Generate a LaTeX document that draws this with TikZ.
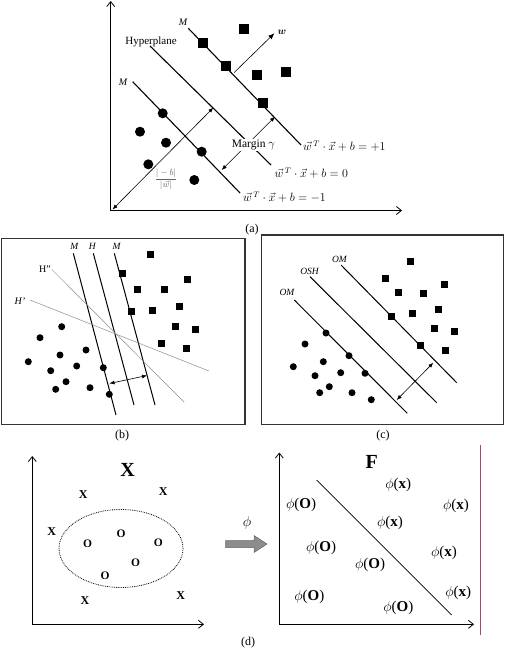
\documentclass[tikz,border=0pt]{standalone}
\usepackage{amsmath}
\usepackage{fontspec}
\setmainfont{Liberation Serif}
\usetikzlibrary{arrows.meta}
\tikzset{
  sq/.style={rectangle,fill=black,inner sep=0pt,minimum size=#1},
  dot/.style={circle,fill=black,inner sep=0pt,minimum size=#1},
  axis/.style={line width=0.8pt,-{Straight Barb[length=5pt,width=8pt]}},
  thinline/.style={line width=0.5pt,black!45},
  dbl/.style={line width=0.6pt,{Latex[length=5pt,width=4pt]}-{Latex[length=5pt,width=4pt]}},
  lab/.style={font=\fontsize{9.5}{10}\selectfont\itshape,inner sep=1pt},
  captxt/.style={font=\fontsize{12}{13}\selectfont,inner sep=1pt},
  eq/.style={font=\fontsize{12}{13}\selectfont,anchor=west,inner sep=0pt},
  panelbox/.style={line width=1.2pt,draw=black!80},
  bigl/.style={font=\fontsize{20}{22}\selectfont\bfseries,inner sep=0pt},
  xl/.style={font=\fontsize{12}{13}\selectfont\bfseries,inner sep=0pt},
  phil/.style={font=\fontsize{15}{16}\selectfont,inner sep=0pt},
}
\begin{document}
\begin{tikzpicture}[x=1pt,y=-1pt]
\useasboundingbox (0,0) rectangle (507,653);
% ================= (a) =================
\coordinate (ao) at (110.7,210.5);
\coordinate (ay) at (110.7,1);
\coordinate (ax) at (402,210.5);
\draw[axis] (ao) -- (ay);
\draw[axis] (ao) -- (ax);
% lines
\coordinate (p1a) at (188.3,28.3); \coordinate (p1b) at (301,145);
\coordinate (h0a) at (150,46); \coordinate (h0b) at (271,165);
\coordinate (m1a) at (132.7,81.7); \coordinate (m1b) at (240,193);
\draw[line width=1.1pt] (p1a) -- (p1b);
\draw[line width=1.1pt] (h0a) -- (h0b);
\draw[line width=1.1pt] (m1a) -- (m1b);
\node[lab,font=\fontsize{10}{11}\selectfont\itshape] (lM1) at (183,22) {M};
\node[lab,font=\fontsize{10}{11}\selectfont\itshape] (lM2) at (123,82) {M};
\node[captxt,font=\fontsize{11}{12}\selectfont] (lhyp) at (151,42) {Hyperplane};
% squares
\foreach \n/\x/\y in {1/244/29,2/203.3/42.7,3/226/66,4/256.7/75,5/286/71.7,6/263.3/103.3}
  \node[sq=10pt] (as\n) at (\x,\y) {};
% circles
\foreach \n/\x/\y in {1/162.7/113.3,2/140/131.7,3/166/142.7,4/201.7/151.7,5/148.3/164.3,6/194.3/180}
  \node[dot=10pt] (ac\n) at (\x,\y) {};
% w arrow
\coordinate (wa) at (234,72.7);
\coordinate (wb) at (274.3,33.3);
\draw[line width=0.6pt,-{Latex[length=6pt,width=5pt]}] (wa) -- (wb);
\node[inner sep=0pt,font=\fontsize{10}{11}\selectfont] (wl) at (282,32.5) {$\boldsymbol{w}$};
% margin arrow
\coordinate (ma) at (221.7,170);
\coordinate (mb) at (275,116.7);
\draw[dbl] (ma) -- (mb);
\node[captxt,font=\fontsize{11.5}{12}\selectfont,fill=white,inner sep=0.5pt] (mlab) at (253.5,145) {Margin $\gamma$};
% long arrow
\coordinate (la) at (112.5,209.5);
\coordinate (lb) at (213.3,107.7);
\draw[dbl] (la) -- (lb);
\node[inner sep=0pt,text=black!60,font=\fontsize{9}{10}\selectfont] (frac) at (166,179) {$\displaystyle\frac{|-b|}{|\vec{w}|}$};
% equations
\node[eq] (e1) at (303,146.5) {$\vec{w}^{\,T}\cdot\vec{x}+b=+1$};
\node[eq] (e0) at (274.5,173) {$\vec{w}^{\,T}\cdot\vec{x}+b=0$};
\node[eq] (em) at (243,197.5) {$\vec{w}^{\,T}\cdot\vec{x}+b=-1$};
\node[captxt] (capa) at (252,229.5) {(a)};
% ================= (b) =================
\draw[panelbox] (1.7,238.3) rectangle (245,424.5);
\coordinate (bm1a) at (73.3,253.3); \coordinate (bm1b) at (116,415);
\coordinate (bha) at (93.3,253.3); \coordinate (bhb) at (134,405);
\coordinate (bm2a) at (114.3,253.3); \coordinate (bm2b) at (155,405);
\coordinate (bh2a) at (51.7,269.3); \coordinate (bh2b) at (184.3,402.3);
\coordinate (bh1a) at (30,300); \coordinate (bh1b) at (209,371);
\draw[line width=1pt] (bm1a) -- (bm1b);
\draw[line width=1pt] (bha) -- (bhb);
\draw[line width=1pt] (bm2a) -- (bm2b);
\draw[thinline] (bh2a) -- (bh2b);
\draw[thinline] (bh1a) -- (bh1b);
\node[lab] (blm1) at (74.3,246.5) {M};
\node[lab] (blh) at (92.3,246.5) {H};
\node[lab] (blm2) at (116.7,246.5) {M};
\node[lab,font=\fontsize{10}{11}\selectfont] (blh2) at (45,269) {H''};
\node[lab,font=\fontsize{10}{11}\selectfont\itshape] (blh1) at (20,301.5) {H'};
\foreach \n/\x/\y in {1/150.7/254.3,2/122.3/273.3,3/187.7/279.3,4/137.7/289,5/164.3/289.3,6/131/311,7/152.3/310,8/179.3/306.7,9/175.7/326,10/195/329.3,11/161.7/343.3,12/186.7/348.3}
  \node[sq=7pt] (bs\n) at (\x,\y) {};
\foreach \n/\x/\y in {1/61.7/326.7,2/40/337.7,3/86/350,4/60/355,5/28.3/361.7,6/50.7/370.7,7/76.7/366,8/103.3/367.7,9/66/381.7,10/55.7/389.3,11/90/387.7,12/109.3/394.3}
  \node[dot=7pt] (bc\n) at (\x,\y) {};
\coordinate (bda) at (109.5,383.5);
\coordinate (bdb) at (147,375.5);
\draw[dbl] (bda) -- (bdb);
\node[captxt] (capb) at (122,436) {(b)};
% ================= (c) =================
\draw[panelbox] (261.7,235) rectangle (503.3,424.5);
\coordinate (coma) at (341,265); \coordinate (comb) at (456.7,382.7);
\coordinate (cosa) at (310,276.7); \coordinate (cosb) at (436.7,402.7);
\coordinate (cola) at (294.3,300); \coordinate (colb) at (407.3,413.3);
\draw[line width=1pt] (coma) -- (comb);
\draw[line width=1pt] (cosa) -- (cosb);
\draw[line width=1pt] (cola) -- (colb);
\node[lab] (clm1) at (339.5,259) {OM};
\node[lab] (clos) at (309.5,271.5) {OSH};
\node[lab] (clm2) at (287,292) {OM};
\foreach \n/\x/\y in {1/410.3/261,2/385/278.3,3/444/284.3,4/398.3/292.7,5/423.7/293.7,6/391.7/316,7/412/313.7,8/438.3/309.7,9/434.3/328.7,10/454/331,11/420.7/345.3,12/445/350.7}
  \node[sq=7pt] (cs\n) at (\x,\y) {};
\foreach \n/\x/\y in {1/326/333,2/305/344,3/349/355.7,4/323.3/361.7,5/293.3/366.7,6/315/375.7,7/340.7/372.7,8/365/373.3,9/329.3/386.7,10/319.7/392.7,11/352/392.7,12/371.3/399.7}
  \node[dot=7pt] (cc\n) at (\x,\y) {};
\coordinate (cda) at (396.7,400);
\coordinate (cdb) at (433.3,362.7);
\draw[dbl] (cda) -- (cdb);
\node[captxt] (capc) at (383,436) {(c)};
% ================= (d) left =================
\coordinate (dlo) at (32.3,624.3);
\coordinate (dly) at (32.3,456);
\coordinate (dlx) at (204,624.3);
\draw[axis] (dlo) -- (dly);
\draw[axis] (dlo) -- (dlx);
\node[bigl] (bigX) at (127.7,470) {X};
\foreach \n/\x/\y in {1/83.3/494.3,2/163.3/491.7,3/51.7/531.7,4/85/601,5/180.7/596}
  \node[xl] (dx\n) at (\x,\y) {X};
\foreach \n/\x/\y in {1/121/533.3,2/87.7/543.3,3/158.3/542.3,4/135.7/562.7,5/105/576}
  \node[xl,font=\fontsize{11.5}{12}\selectfont\bfseries] (do\n) at (\x,\y) {O};
\draw[densely dotted,line width=0.8pt] (121,548.5) ellipse [x radius=62,y radius=39];
% mapping arrow
\node[phil] (phim) at (247,523) {$\phi$};
\coordinate (ga1) at (225.7,540.5);
\draw[fill=black!45,draw=black!60,line width=0.5pt]
  (ga1) -- (254,540.5) -- (254,535.5) -- (267,544) -- (254,552.5) -- (254,547.5) -- (225.7,547.5) -- cycle;
% ================= (d) right =================
\coordinate (dro) at (279.3,624.3);
\coordinate (dry) at (279.3,452.5);
\coordinate (drx) at (474,624.3);
\draw[axis] (dro) -- (dry);
\draw[axis] (dro) -- (drx);
\coordinate (pka) at (480.7,445);
\coordinate (pkb) at (480.7,635);
\draw[line width=1.2pt,draw={rgb,255:red,175;green,70;blue,100}] (pka) -- (pkb);
\node[bigl] (bigF) at (371.7,461.5) {F};
\coordinate (dda) at (316.7,480);
\coordinate (ddb) at (451.7,615);
\draw[line width=0.7pt] (dda) -- (ddb);
\foreach \n/\x/\y in {1/398.3/485,2/456/506,3/390/522.7,4/444/553.3,5/458.3/592.7}
  \node[phil] (px\n) at (\x,\y) {$\phi$(\textbf{x})};
\foreach \n/\x/\y in {1/301/505,2/321/548.3,3/370/565,4/309.3/596.7,5/398.3/607.7}
  \node[phil] (po\n) at (\x,\y) {$\phi$(\textbf{O})};
\node[captxt] (capd) at (248,643) {(d)};
\end{tikzpicture}
\end{document}
